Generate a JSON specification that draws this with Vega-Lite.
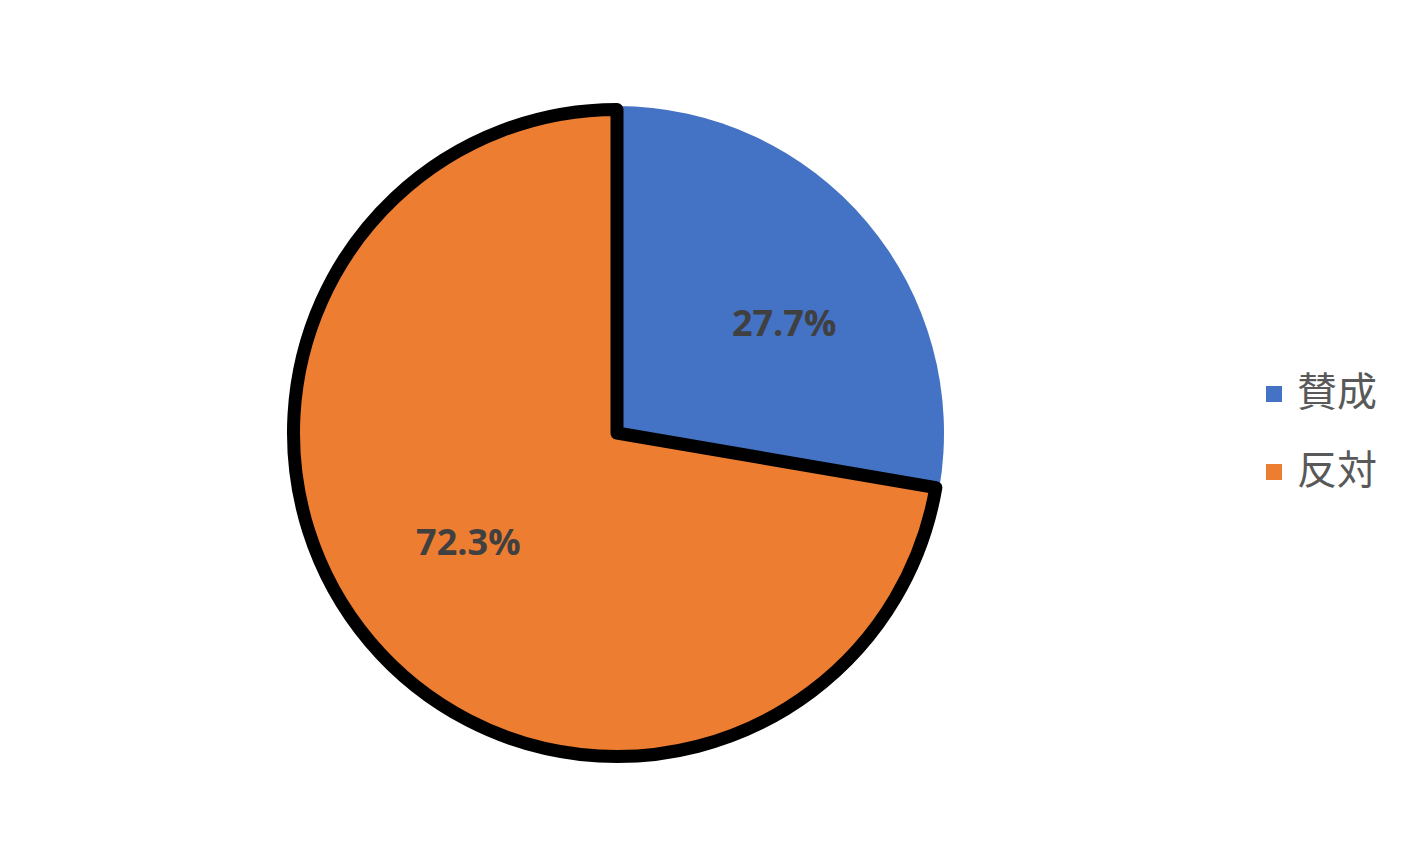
{
  "$schema": "https://vega.github.io/schema/vega-lite/v6.json",
  "width": 1234,
  "height": 866,
  "padding": 0,
  "background": "white",
  "config": {"view": {"stroke": null}},
  "data": {"values": [
    {"category": "賛成", "value": 27.7, "label": "27.7%"},
    {"category": "反対", "value": 72.3, "label": "72.3%"}
  ]},
  "encoding": {
    "theta": {"field": "value", "type": "quantitative", "stack": true},
    "order": {"field": "value", "type": "quantitative", "sort": "ascending"}
  },
  "layer": [
    {
      "mark": {"type": "arc", "radius": 327, "strokeWidth": 0},
      "encoding": {
        "color": {
          "field": "category", "type": "nominal",
          "scale": {"domain": ["賛成", "反対"], "range": ["#4472C4", "#ED7D31"]},
          "legend": {
            "title": null,
            "orient": "none",
            "legendX": 1254,
            "legendY": 374,
            "symbolType": "square",
            "symbolSize": 256,
            "symbolStrokeWidth": 0,
            "labelFont": "Noto Sans CJK JP",
            "labelFontSize": 40,
            "labelColor": "#595959",
            "labelOffset": 3,
            "rowPadding": 38,
            "labelLimit": 300
          }
        },
        "opacity": {"condition": {"test": "datum.category === '賛成'", "value": 1}, "value": 0}
      }
    },
    {
      "mark": {"type": "arc", "radius": 323.5, "stroke": "black", "strokeJoin": "round"},
      "encoding": {
        "fill": {"field": "category", "type": "nominal", "scale": {"domain": ["賛成", "反対"], "range": ["#4472C4", "#ED7D31"]}, "legend": null},
        "strokeWidth": {"condition": {"test": "datum.category === '反対'", "value": 13}, "value": 0},
        "opacity": {"condition": {"test": "datum.category === '反対'", "value": 1}, "value": 0}
      }
    },
    {
      "mark": {"type": "text", "radius": 199, "font": "Open Sans", "fontWeight": "bold", "fontSize": 36, "fill": "#404040", "align": "center", "baseline": "middle", "dx": 15, "dy": 20},
      "encoding": {
        "text": {"condition": {"test": "datum.category === '賛成'", "field": "label"}, "value": ""}
      }
    },
    {
      "mark": {"type": "text", "radius": 184, "font": "Open Sans", "fontWeight": "bold", "fontSize": 36, "fill": "#404040", "align": "center", "baseline": "middle", "dx": -8, "dy": -8},
      "encoding": {
        "text": {"condition": {"test": "datum.category === '反対'", "field": "label"}, "value": ""}
      }
    }
  ]
}
